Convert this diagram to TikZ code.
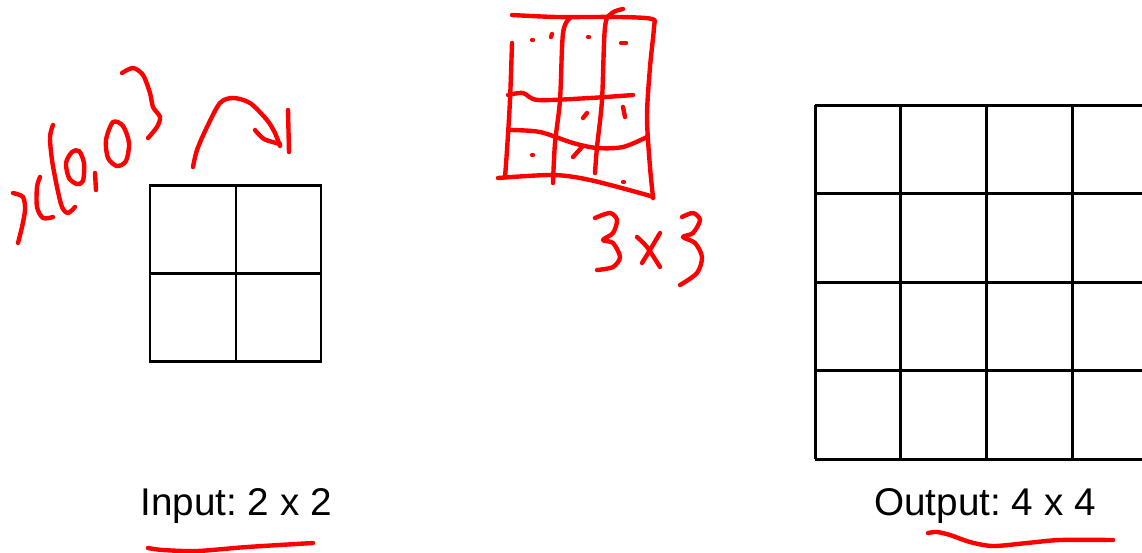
\documentclass[tikz,border=0pt]{standalone}
\usepackage{fontspec}
\setmainfont{Liberation Sans}
\frenchspacing
\begin{document}
\begin{tikzpicture}[
            x=0.02cm, y=-0.02cm,
            grid/.style={draw=black,line width=1.7pt},
            pen/.style={draw=red,line width=2.5pt,line cap=round,line join=round},
            lbl/.style={font=\fontsize{22}{26}\selectfont,inner sep=0pt}
        ]

        \useasboundingbox (0,0) rectangle (1142,552);

        % input grid 2 x 2
        \draw[grid] (150,185) rectangle (321,361);
        \draw[grid] (236,185) -- (236,361) (150,273) -- (321,273);

        % output grid 4 x 4 (runs off the right edge)
        \foreach \y in {105,193,282,370,459}
            \draw[grid] (815,\y) -- (1142,\y);
        \foreach \x in {815,900,986,1072}
            \draw[grid] (\x,105) -- (\x,459);

        \node[lbl] (input) at (236,506) {Input: 2 x 2};
        \node[lbl] (output) at (985,506) {Output: 4 x 4};

        % red notes: x(0,0) and arrow to 1
        \draw[pen] plot[smooth] coordinates {(13,193) (23,197) (25,210) (22,227) (18,243)};
        \draw[pen] plot[smooth] coordinates {(40,177) (37,187) (37,207) (43,218) (53,217)};
        \draw[pen] plot[smooth] coordinates {(53,125) (50,137) (52,160) (57,187) (62,207) (68,213) (75,207)};
        \draw[pen] plot[smooth cycle] coordinates {(72,152) (79,151) (84,163) (83,181) (77,184) (69,178) (66,163)};
        \draw[pen] (95,173) -- (96,190);
        \draw[pen] plot[smooth cycle] coordinates {(113,122) (123,126) (129,143) (126,161) (117,166) (108,158) (106,140)};
        \draw[pen] plot[smooth] coordinates {(122,73) (133,68) (143,75) (150,93) (153,107) (160,117) (157,127) (148,138)};
        \draw[pen] plot[smooth] coordinates {(193,167) (197,150) (207,127) (220,103) (233,98) (250,103) (267,120) (275,133) (280,146)};
        \draw[pen] plot[smooth] coordinates {(255,130) (264,139) (280,144)};
        \draw[pen] (288,110) -- (289,152);

        % red kernel sketch 3x3
        \draw[pen] plot[smooth] coordinates {(512,15) (557,17) (620,17) (652,19) (654,27) (650,67) (647,117) (650,167) (653,197)};
        \draw[pen] plot[smooth] coordinates {(512,43) (510,100) (507,150) (505,177)};
        \draw[pen] plot[smooth] coordinates {(498,178) (553,175) (590,180) (647,195) (653,198)};
        \draw[pen] plot[smooth] coordinates {(570,18) (563,33) (560,100) (555,143) (553,183)};
        \draw[pen] plot[smooth] coordinates {(623,9) (612,13) (605,27) (602,100) (597,147) (595,173)};
        \draw[pen] plot[smooth] coordinates {(508,95) (523,93) (538,100) (590,98) (633,95)};
        \draw[pen] plot[smooth] coordinates {(510,130) (540,132) (573,143) (597,148) (623,147) (647,137)};
        \foreach \p in {(532,40),(588,37),(532,155),(623,182)}
            \draw[pen] \p -- ++(1,0);
        \draw[pen] (552,34) -- (551,37);
        \draw[pen] (621,43) -- (626,43);
        \draw[pen] (587,113) -- (583,118);
        \draw[pen] (623,107) -- (625,117);
        \draw[pen] (573,157) -- (582,147);
        \draw[pen] plot[smooth] coordinates {(595,218) (610,213) (617,220) (613,233) (603,240) (613,243) (620,257) (613,267) (597,270)};
        \draw[pen] plot[smooth] coordinates {(637,237) (647,247) (660,267)};
        \draw[pen] plot[smooth] coordinates {(660,233) (650,250) (642,263)};
        \draw[pen] plot[smooth] coordinates {(682,217) (693,213) (700,220) (693,233) (683,237) (695,243) (702,257) (697,273) (680,285)};

        % underlines
        \draw[pen] plot[smooth] coordinates {(148,548) (163,550) (197,551) (247,547) (313,543)};
        \draw[pen] plot[smooth] coordinates {(928,533) (937,532) (950,535) (970,542) (993,546) (1027,543) (1060,540) (1113,540)};

    \end{tikzpicture}
\end{document}
